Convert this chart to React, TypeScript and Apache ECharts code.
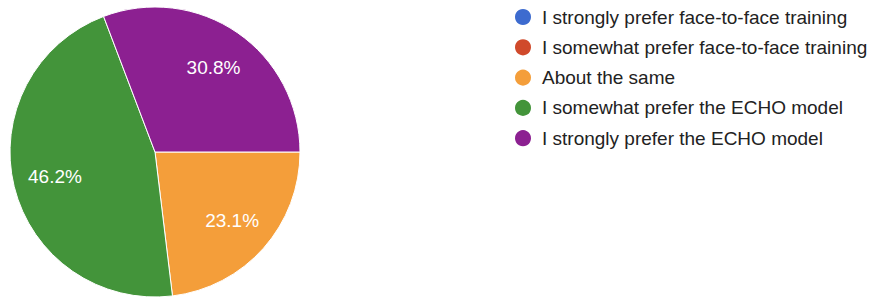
import React, { useEffect, useRef } from "react";
import * as echarts from "echarts";

const categories = [
  "I strongly prefer face-to-face training",
  "I somewhat prefer face-to-face training",
  "About the same",
  "I somewhat prefer the ECHO model",
  "I strongly prefer the ECHO model",
];
const percents = [0, 0, 23.1, 46.2, 30.8];
const colors = ["#3d6bcf", "#d04a2b", "#f49e3a", "#43943a", "#8c2091"];

export default function App() {
  const ref = useRef<HTMLDivElement>(null);
  useEffect(() => {
    document.body.style.margin = "0";
    const chart = echarts.init(ref.current!, null, { renderer: "svg" });
    const data = categories.map((name, i) => ({
      name,
      value: percents[i],
      itemStyle: { color: colors[i] },
    }));
    chart.setOption({
      animation: false,
      backgroundColor: "#ffffff",
      legend: {
        data: categories,
        orient: "vertical",
        left: 513,
        top: 7,
        padding: 0,
        icon: "circle",
        itemWidth: 18,
        itemHeight: 18,
        itemGap: 10.3,
        selectedMode: false,
        textStyle: {
          fontFamily: "Liberation Sans, Arial, sans-serif",
          fontSize: 19,
          lineHeight: 18,
          color: "#222222",
          padding: [0, 0, 0, 5],
        },
      },
      series: [
        {
          type: "pie",
          center: [155, 152],
          radius: [0, 145],
          startAngle: 0,
          clockwise: true,
          silent: true,
          data,
          label: { show: false },
          labelLine: { show: false },
          itemStyle: { borderColor: "#ffffff", borderWidth: 1 },
        },
        {
          type: "pie",
          center: [155, 152],
          radius: [55, 145],
          startAngle: 0,
          clockwise: true,
          silent: true,
          legendHoverLink: false,
          data: categories.map((name, i) => ({
            name,
            value: percents[i],
            itemStyle: { color: "rgba(0,0,0,0)" },
          })),
          itemStyle: { borderWidth: 0 },
          label: {
            show: true,
            position: "inside",
            color: "#ffffff",
            fontFamily: "Liberation Sans, Arial, sans-serif",
            fontSize: 19,
            formatter: (p: any) => (p.value > 0 ? p.value.toFixed(1) + "%" : ""),
          },
          labelLine: { show: false },
        },
      ],
    });
    return () => chart.dispose();
  }, []);
  return <div ref={ref} style={{ width: 875, height: 297 }} />;
}
